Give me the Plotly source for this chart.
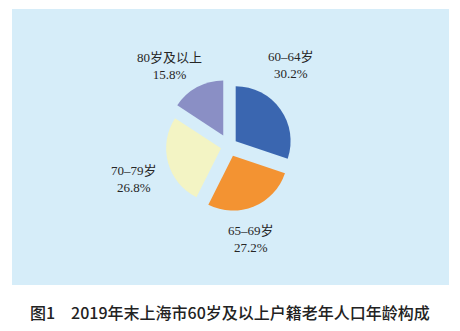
import plotly.graph_objects as go

categories = ["60–64岁", "65–69岁", "70–79岁", "80岁及以上"]
values = [30.2, 27.2, 26.8, 15.8]
colors = ["#3A66B0", "#F39332", "#F3F4C4", "#8A8FC5"]
pulls = [0.15, 0.19, 0.15, 0.22]
caption = "图1　2019年末上海市60岁及以上户籍老年人口年龄构成"

W, H = 460, 331
# label centre positions (pixels) for each category
label_pos = [(291, 64.5), (250.5, 238.5), (133.5, 179), (169, 66.5)]

fig = go.Figure()
fig.add_trace(go.Pie(
    labels=categories,
    values=values,
    sort=False,
    direction="clockwise",
    rotation=0,
    pull=pulls,
    marker=dict(colors=colors, line=dict(width=0)),
    textinfo="none",
    hoverinfo="label+percent",
    showlegend=False,
    domain=dict(x=[162 / W, 296 / W], y=[1 - 213 / H, 1 - 79 / H]),
))

# background panel
fig.add_shape(type="rect", xref="paper", yref="paper",
              x0=12 / W, x1=449 / W, y0=1 - 285 / H, y1=1 - 9 / H,
              fillcolor="#D6EDF9", line=dict(width=0), layer="below")

label_font = dict(family="Liberation Serif, Noto Sans CJK SC, serif", size=13, color="#262626")
for cat, val, (px, py) in zip(categories, values, label_pos):
    fig.add_annotation(
        x=px / W, y=1 - py / H, xref="paper", yref="paper",
        text=f"{cat}<br>{val:.1f}%", showarrow=False,
        font=label_font, align="center", xanchor="center", yanchor="middle",
    )

fig.add_annotation(
    x=230 / W, y=1 - 312 / H, xref="paper", yref="paper",
    text=caption, showarrow=False,
    font=dict(family="Noto Sans CJK SC", size=16, color="#222222", weight=500),
    xanchor="center", yanchor="middle",
)

fig.update_layout(
    width=W, height=H,
    margin=dict(l=0, r=0, t=0, b=0),
    paper_bgcolor="white",
    plot_bgcolor="white",
)

fig.write_html("out.html")
